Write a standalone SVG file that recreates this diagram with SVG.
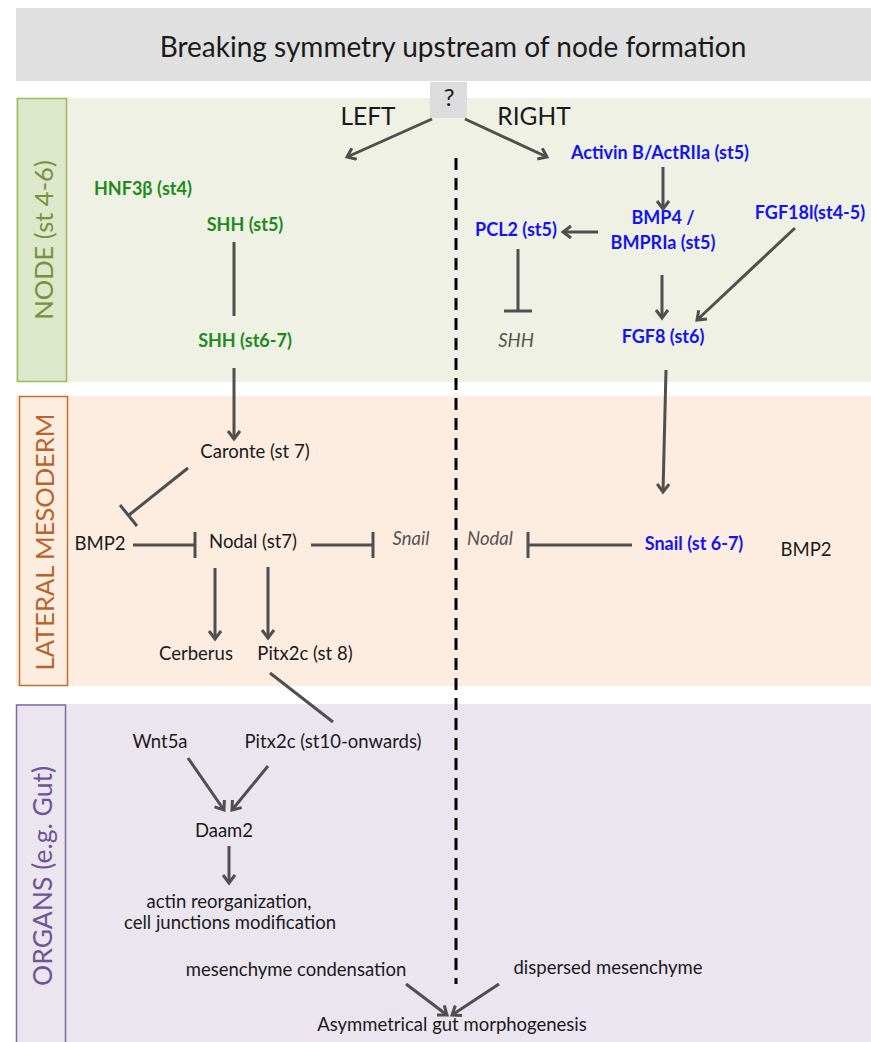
<svg xmlns="http://www.w3.org/2000/svg" width="871" height="1042" viewBox="0 0 871 1042">
<style>
text{font-family:Lato,"Liberation Sans",sans-serif;font-size:18.5px;fill:#1a1a1a}
.g{fill:#1e8a1e;font-weight:bold;font-size:18px}
.b{fill:#1414f0;font-weight:bold;font-size:18px}
.i{fill:#555;font-style:italic;font-size:18.5px}
.c{stroke:#4f4f4f;stroke-width:3;fill:none}
.a{marker-end:url(#arr)}
.m{text-anchor:middle}
</style>
<defs>
<marker id="arr" markerUnits="userSpaceOnUse" markerWidth="16" markerHeight="16" refX="10" refY="7" orient="auto">
<path d="M2,1 L10,7 L2,13" fill="none" stroke="#4f4f4f" stroke-width="3"/>
</marker>
</defs>
<rect x="0" y="0" width="871" height="1042" fill="#fff"/>
<g id="bands">
<rect x="16" y="8" width="855" height="73" fill="#e0e0e0"/>
<rect x="16" y="98" width="855" height="284" fill="#eef1e3"/>
<rect x="16" y="396" width="855" height="290" fill="#fdece0"/>
<rect x="16" y="704" width="855" height="338" fill="#ebe5ef"/>
<rect x="17.5" y="98.5" width="49" height="283" fill="#dde8cb" stroke="#9bbb59" stroke-width="1.5"/>
<rect x="19.5" y="396.5" width="48" height="289" fill="#fdece0" stroke="#c0702a" stroke-width="1.5"/>
<rect x="16.5" y="705" width="49" height="345" fill="#ebe5ef" stroke="#7d6a9e" stroke-width="1.5"/>
<text transform="translate(53,240) rotate(-90)" class="m" style="font-size:25.5px;fill:#76923c">NODE (st 4-6)</text>
<text transform="translate(54,542) rotate(-90)" class="m" style="font-size:25.5px;fill:#b8652a">LATERAL MESODERM</text>
<text transform="translate(52,876) rotate(-90)" class="m" style="font-size:26.5px;fill:#6b5595">ORGANS (e.g. Gut)</text>
</g>
<g id="title"><text x="453" y="57" class="m" style="font-size:28px">Breaking symmetry upstream of node formation</text></g>
<g id="q"><rect x="430" y="82" width="37" height="36" fill="#dcdcdc"/><text x="449" y="106" class="m" style="font-size:24px">?</text></g>
<g id="left"><text x="368" y="125" class="m" style="font-size:24.5px">LEFT</text></g>
<g id="right"><text x="534" y="125" class="m" style="font-size:24.5px">RIGHT</text></g>
<g id="hnf"><text x="94" y="195" class="g">HNF3β (st4)</text></g>
<g id="shh5"><text x="245" y="231" class="g m">SHH (st5)</text></g>
<g id="shh67"><text x="245" y="347" class="g m">SHH (st6-7)</text></g>
<g id="activin"><text x="660" y="159" class="b m">Activin B/ActRIIa (st5)</text></g>
<g id="bmp4"><text x="663" y="224" class="b m">BMP4 /</text><text x="663" y="249" class="b m">BMPRIa (st5)</text></g>
<g id="pcl2"><text x="516" y="236" class="b m">PCL2 (st5)</text></g>
<g id="fgf18"><text x="810" y="219" class="b m">FGF18l(st4-5)</text></g>
<g id="fgf8"><text x="663" y="343" class="b m">FGF8 (st6)</text></g>
<g id="shhR"><text x="516" y="347" class="i m">SHH</text></g>
<g id="caronte"><text x="255" y="458" class="m">Caronte (st 7)</text></g>
<g id="bmp2L"><text x="100" y="550" class="m">BMP2</text></g>
<g id="nodal"><text x="253" y="548" class="m">Nodal (st7)</text></g>
<g id="snailL"><text x="411" y="545" class="i m">Snail</text></g>
<g id="nodalR"><text x="490" y="545" class="i m">Nodal</text></g>
<g id="snail"><text x="694" y="550" class="b m">Snail (st 6-7)</text></g>
<g id="bmp2R"><text x="806" y="556" class="m">BMP2</text></g>
<g id="cerberus"><text x="196" y="660" class="m">Cerberus</text></g>
<g id="pitx8"><text x="305" y="660" class="m">Pitx2c (st 8)</text></g>
<g id="wnt5a"><text x="160" y="748" class="m">Wnt5a</text></g>
<g id="pitx10"><text x="333" y="748" class="m">Pitx2c (st10-onwards)</text></g>
<g id="daam2"><text x="224" y="837" class="m">Daam2</text></g>
<g id="actin"><text x="229" y="908" class="m">actin reorganization,</text><text x="230" y="929" class="m">cell junctions modification</text></g>
<g id="mes"><text x="296" y="976" class="m">mesenchyme condensation</text></g>
<g id="disp"><text x="608" y="974" class="m">dispersed mesenchyme</text></g>
<g id="asym"><text x="452" y="1031" class="m">Asymmetrical gut morphogenesis</text></g>
<g id="connectors">
<line x1="456" y1="158" x2="456" y2="984" stroke="#000" stroke-width="3" stroke-dasharray="12,8"/>
<line class="c a" x1="432" y1="119" x2="347" y2="157"/>
<line class="c a" x1="465" y1="119" x2="547" y2="157"/>
<line class="c" x1="234" y1="242" x2="234" y2="316"/>
<line class="c a" x1="234" y1="368" x2="234" y2="439"/>
<line class="c a" x1="663" y1="167" x2="663" y2="209"/>
<line class="c a" x1="598" y1="232" x2="563" y2="232"/>
<line class="c a" x1="795" y1="228" x2="697" y2="320"/>
<line class="c a" x1="662" y1="275" x2="662" y2="318"/>
<line class="c" x1="518" y1="249" x2="518" y2="311"/><line class="c" x1="504" y1="311" x2="532" y2="311"/>
<line class="c a" x1="666" y1="370" x2="663" y2="492"/>
<line class="c" x1="188" y1="468" x2="129" y2="515"/><line class="c" x1="120" y1="505" x2="137" y2="526"/>
<line class="c" x1="133" y1="545" x2="195" y2="545"/><line class="c" x1="195" y1="532" x2="195" y2="558"/>
<line class="c" x1="311" y1="545" x2="373" y2="545"/><line class="c" x1="373" y1="532" x2="373" y2="558"/>
<line class="c" x1="632" y1="545" x2="528" y2="545"/><line class="c" x1="528" y1="532" x2="528" y2="558"/>
<line class="c a" x1="215" y1="568" x2="215" y2="639"/>
<line class="c a" x1="268" y1="567" x2="268" y2="638"/>
<line class="c" x1="270" y1="673" x2="333" y2="722"/>
<line class="c a" x1="188" y1="758" x2="224" y2="810"/>
<line class="c a" x1="268" y1="766" x2="232" y2="810"/>
<line class="c a" x1="229" y1="846" x2="229" y2="883"/>
<line class="c a" x1="406" y1="984" x2="447" y2="1015"/>
<line class="c a" x1="499" y1="984" x2="452" y2="1015"/>
</g>
</svg>
